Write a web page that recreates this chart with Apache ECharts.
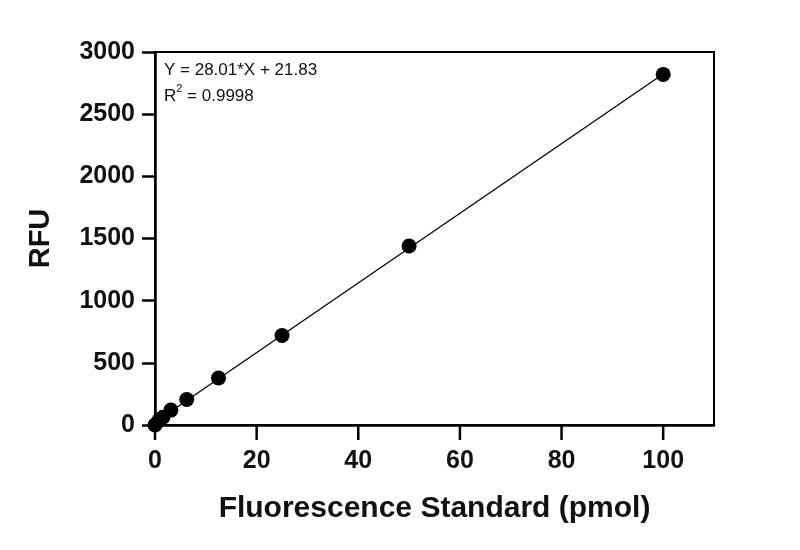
<!DOCTYPE html>
<html><head><meta charset="utf-8">
<script src="https://cdn.jsdelivr.net/npm/echarts@6/dist/echarts.min.js"></script>
<style>html,body{margin:0;padding:0;background:#fff}#c{width:800px;height:550px}</style>
</head><body><div id="c"></div>
<script>
var xValues = [0, 0.78, 1.56, 3.125, 6.25, 12.5, 25, 50, 100];
var yValues = [0, 35, 62, 120, 205, 378, 720, 1440, 2820];
var slope = 28.01, intercept = 21.83;
var fitX = [0, 100];
var xTicks = [0, 20, 40, 60, 80, 100];
var yTicks = [0, 500, 1000, 1500, 2000, 2500, 3000];

var chart = echarts.init(document.getElementById('c'));
var font = 'Liberation Sans, Arial, sans-serif';
function plain(v){ return String(v); }
chart.setOption({
  animation: false,
  grid: {left: 155, right: 86, top: 52, bottom: 125, show: true, borderColor: '#000', borderWidth: 2},
  xAxis: {
    type: 'value', min: 0, max: 110, interval: 20,
    name: 'Fluorescence Standard (pmol)', nameLocation: 'middle', nameGap: 69,
    nameTextStyle: {fontFamily: font, fontWeight: 'bold', fontSize: 30, color: '#111'},
    axisLine: {onZero: false, lineStyle: {color: '#000', width: 2.5}},
    axisTick: {show: false},
    axisLabel: {fontFamily: font, fontWeight: 'bold', fontSize: 25, color: '#111', margin: 24, customValues: xTicks, formatter: plain},
    splitLine: {show: false}
  },
  yAxis: {
    type: 'value', min: 0, max: 3000, interval: 500,
    name: 'RFU', nameLocation: 'middle', nameGap: 100,
    nameTextStyle: {fontFamily: font, fontWeight: 'bold', fontSize: 29, color: '#111'},
    axisLine: {onZero: false, lineStyle: {color: '#000', width: 2.5}},
    axisTick: {show: true, length: 13, lineStyle: {color: '#000', width: 2.5}, customValues: yTicks},
    axisLabel: {fontFamily: font, fontWeight: 'bold', fontSize: 25, color: '#111', margin: 20, customValues: yTicks, formatter: plain},
    splitLine: {show: false}
  },
  graphic: [{
    type: 'text', left: 164, top: 62,
    style: {rich: {a: {fontFamily: font, fontSize: 17, fill: '#111', lineHeight: 26}, s: {fontFamily: font, fontSize: 11, fill: '#111', verticalAlign: 'top', padding: [0,0,9,0]}},
      text: '{a|Y = 28.01*X + 21.83}\n{a|R}{s|2}{a| = 0.9998}'}
  }],
  series: [{
    type: 'custom', silent: true, clip: false, z: 10,
    data: xTicks.map(function(v){ return [v, 0]; }),
    renderItem: function(params, api){
      var p = api.coord([api.value(0), 0]);
      return {type: 'line', shape: {x1: p[0], y1: p[1], x2: p[0], y2: p[1] + 15},
        style: {stroke: '#000', lineWidth: 2.5}};
    }
  }, {
    type: 'line', data: fitX.map(function(x){ return [x, slope * x + intercept]; }),
    symbol: 'none', lineStyle: {color: '#000', width: 1.3}, z: 2
  }, {
    type: 'scatter', data: xValues.map(function(x, i){ return [x, yValues[i]]; }),
    symbol: 'circle', symbolSize: 15, itemStyle: {color: '#000', opacity: 1}, z: 3
  }]
});
</script></body></html>
